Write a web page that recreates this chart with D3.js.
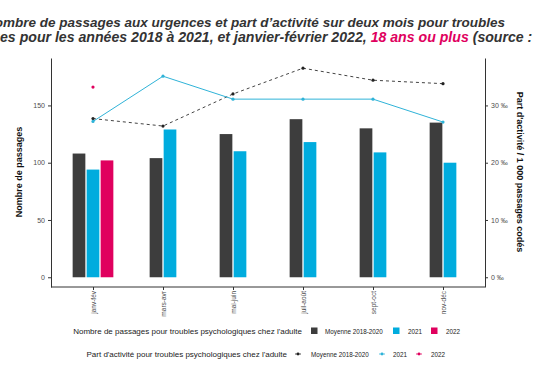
<!DOCTYPE html>
<html>
<head>
<meta charset="utf-8">
<script src="https://cdn.jsdelivr.net/npm/d3@7"></script>
<style>
  body { margin: 0; background: #fff; }
  svg { display: block; font-family: "Liberation Sans", Arial, sans-serif; }
</style>
</head>
<body>
<div class="chart"></div>
<script>
var w = 534;
var h = 368;

// data
var periods = ["janv-fév", "mars-avr", "mai-juin", "juil-août", "sept-oct", "nov-déc"];
var passMoy = [108, 104, 125, 138, 130, 135];
var pass2021 = [94, 129, 110, 118, 109, 100];
var pass2022 = [102];
var partMoy = [27.7, 26.4, 32.0, 36.5, 34.4, 33.8];
var part2021 = [27.2, 35.1, 31.1, 31.1, 31.1, 27.1];
var part2022 = [33.2];
var leftTicks = [0, 50, 100, 150];
var rightTicks = [0, 10, 20, 30];

var cMoy = "#3d3d3d";
var c2021 = "#00acde";
var c2022 = "#e0005e";
var cLine21 = "#2fb3d8";

var svg = d3.select(".chart")
    .append("svg")
    .attr("width", w)
    .attr("height", h);

// title (wider than the picture, clipped on both sides)
function measure(str, size) {
    var t = svg.append("text").attr("font-size", size).attr("font-weight", "bold")
        .attr("font-style", "italic").text(str);
    var len = t.node().getComputedTextLength();
    t.remove();
    return len;
}

var titleSize = 15 * 502 / measure("mbre de passages aux urgences et part d’activité sur deux mois pour troubles", 15);
var titleSize2 = 15 * 367 / measure("es pour les années 2018 à 2021, et janvier-février 2022, ", 15);

var t1 = svg.append("text")
    .attr("y", 27)
    .attr("font-size", titleSize)
    .attr("font-weight", "bold")
    .attr("font-style", "italic")
    .attr("fill", "#333")
    .text("Nombre de passages aux urgences et part d’activité sur deux mois pour troubles");
t1.attr("x", 3 - measure("No", titleSize));

var t2 = svg.append("text")
    .attr("y", 42)
    .attr("font-size", titleSize2)
    .attr("font-weight", "bold")
    .attr("font-style", "italic")
    .attr("fill", "#333");
t2.append("tspan").text("psychologiques pour les années 2018 à 2021, et janvier-février 2022, ");
t2.append("tspan").attr("fill", c2022).text("18 ans ou plus");
t2.append("tspan").text(" (source : OSCOUR®)");
t2.attr("x", 0 - measure("psychologiqu", titleSize2));

// scales
var x = d3.scalePoint()
    .domain(periods)
    .range([51, 485])
    .padding(0.6);

var y = d3.scaleLinear()
    .domain([-8.5, 191.4])
    .range([287, 58]);

var y2 = d3.scaleLinear()
    .domain([-8.5 / 5, 191.4 / 5])
    .range([287, 58]);

var barW = 12.7;
var step = 14;

function barX(i, k, n) {
    return x(periods[i]) + (k - (n - 1) / 2) * step - barW / 2;
}

function nBars(i) {
    return i < pass2022.length ? 3 : 2;
}

// bars
var series = [
    { vals: passMoy, color: cMoy, k: 0 },
    { vals: pass2021, color: c2021, k: 1 },
    { vals: pass2022, color: c2022, k: 2 }
];

series.forEach(function(s) {
    svg.append("g").selectAll("rect")
        .data(s.vals)
        .enter()
        .append("rect")
        .attr("x", function(d, i) { return barX(i, s.k, nBars(i)); })
        .attr("y", function(d) { return y(d); })
        .attr("width", barW)
        .attr("height", function(d) { return y(0) - y(d); })
        .attr("fill", s.color);
});

// lines on the secondary axis
var line = d3.line()
    .x(function(d, i) { return x(periods[i]); })
    .y(function(d) { return y2(d); });

svg.append("path")
    .datum(partMoy)
    .attr("d", line)
    .attr("fill", "none")
    .attr("stroke", "#444")
    .attr("stroke-width", 1)
    .attr("stroke-dasharray", "3,3");

svg.append("path")
    .datum(part2021)
    .attr("d", line)
    .attr("fill", "none")
    .attr("stroke", cLine21)
    .attr("stroke-width", 1);

[[partMoy, "#222"], [part2021, cLine21], [part2022, c2022]].forEach(function(p) {
    svg.append("g").selectAll("circle")
        .data(p[0])
        .enter()
        .append("circle")
        .attr("cx", function(d, i) { return x(periods[i]); })
        .attr("cy", function(d) { return y2(d); })
        .attr("r", 1.6)
        .attr("fill", p[1]);
});

// axes
function styleAxis(g) {
    g.select(".domain").attr("stroke", "#333").attr("stroke-width", 1);
    g.selectAll(".tick line").attr("stroke", "#333");
    g.selectAll(".tick text").attr("fill", "#4d4d4d").attr("font-size", 7);
}

svg.append("g")
    .attr("transform", "translate(51,0)")
    .call(d3.axisLeft(y).tickValues(leftTicks).tickSize(3).tickSizeOuter(0))
    .call(styleAxis);

svg.append("g")
    .attr("transform", "translate(485,0)")
    .call(d3.axisRight(y2).tickValues(rightTicks).tickSize(3).tickSizeOuter(0)
        .tickFormat(function(d) { return d + " ‰"; }))
    .call(styleAxis);

var xAxis = svg.append("g")
    .attr("transform", "translate(0,287)")
    .call(d3.axisBottom(x).tickSize(3).tickSizeOuter(0))
    .call(styleAxis);
xAxis.select(".domain").attr("d", "M51,0H485");
xAxis.selectAll(".tick text")
    .attr("transform", "rotate(-90)")
    .attr("text-anchor", "end")
    .attr("x", -4)
    .attr("y", 0)
    .attr("dy", "0.32em")
    .attr("font-size", 6.5);

// axis titles
svg.append("text")
    .attr("transform", "translate(22,172) rotate(-90)")
    .attr("text-anchor", "middle")
    .attr("font-size", 9)
    .attr("font-weight", "bold")
    .attr("fill", "#111")
    .text("Nombre de passages");

svg.append("text")
    .attr("transform", "translate(517,172) rotate(90)")
    .attr("text-anchor", "middle")
    .attr("font-size", 9)
    .attr("font-weight", "bold")
    .attr("fill", "#111")
    .text("Part d'activité / 1 000 passages codés");

// legends
var legBars = svg.append("g").attr("transform", "translate(0,331)");
legBars.append("text")
    .attr("x", 302)
    .attr("y", 3)
    .attr("text-anchor", "end")
    .attr("font-size", 8)
    .attr("fill", "#222")
    .text("Nombre de passages pour troubles psychologiques chez l'adulte");

var legLabels = ["Moyenne 2018-2020", "2021", "2022"];
var legBarX = [311, 393, 431];
var legTextX = [325, 408, 446];
var legBarColors = [cMoy, c2021, c2022];

legBars.selectAll("rect")
    .data(legLabels)
    .enter()
    .append("rect")
    .attr("x", function(d, i) { return legBarX[i]; })
    .attr("y", -3.5)
    .attr("width", 6.5)
    .attr("height", 6.5)
    .attr("fill", function(d, i) { return legBarColors[i]; });

legBars.selectAll("text.lab")
    .data(legLabels)
    .enter()
    .append("text")
    .attr("class", "lab")
    .attr("x", function(d, i) { return legTextX[i]; })
    .attr("y", 2.5)
    .attr("font-size", 6.3)
    .attr("fill", "#222")
    .text(function(d) { return d; });

var legLines = svg.append("g").attr("transform", "translate(0,354)");
legLines.append("text")
    .attr("x", 287)
    .attr("y", 3)
    .attr("text-anchor", "end")
    .attr("font-size", 8)
    .attr("fill", "#222")
    .text("Part d'activité pour troubles psychologiques chez l'adulte");

var legPtX = [298, 382, 419];
var legPtTextX = [311, 393, 431];
var legPtColors = ["#222", cLine21, c2022];

legLines.selectAll("line")
    .data(legLabels)
    .enter()
    .append("line")
    .attr("x1", function(d, i) { return legPtX[i] - 3; })
    .attr("x2", function(d, i) { return legPtX[i] + 3; })
    .attr("y1", 0)
    .attr("y2", 0)
    .attr("stroke", function(d, i) { return legPtColors[i]; })
    .attr("stroke-width", 0.8);

legLines.selectAll("circle")
    .data(legLabels)
    .enter()
    .append("circle")
    .attr("cx", function(d, i) { return legPtX[i]; })
    .attr("cy", 0)
    .attr("r", 1.4)
    .attr("fill", function(d, i) { return legPtColors[i]; });

legLines.selectAll("text.lab")
    .data(legLabels)
    .enter()
    .append("text")
    .attr("class", "lab")
    .attr("x", function(d, i) { return legPtTextX[i]; })
    .attr("y", 2.5)
    .attr("font-size", 6.3)
    .attr("fill", "#222")
    .text(function(d) { return d; });
</script>
</body>
</html>
